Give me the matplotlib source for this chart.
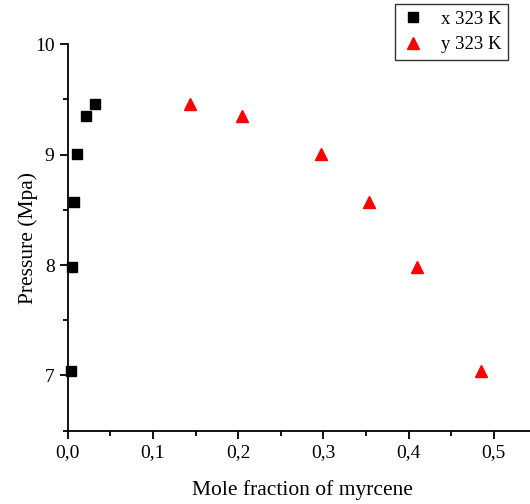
import matplotlib
matplotlib.use('Agg')
import matplotlib.pyplot as plt
from matplotlib.ticker import MultipleLocator, FuncFormatter

plt.rcParams['font.family'] = 'Liberation Serif'

# liquid phase (x) and vapour phase (y) at 323 K
x_liq = [0.0039, 0.0054, 0.0077, 0.0113, 0.0218, 0.0324]
p_liq = [7.04, 7.98, 8.57, 9.01, 9.35, 9.46]
y_vap = [0.4854, 0.4096, 0.3533, 0.2977, 0.2046, 0.1435]
p_vap = [7.04, 7.98, 8.57, 9.01, 9.35, 9.46]

fig = plt.figure(figsize=(5.30, 5.04), dpi=100)
ax = fig.add_axes([67.7/530, 1 - 430.7/504, (0.55*852)/530, (430.7-44.3)/504])

ax.plot(x_liq, p_liq, 's', color='black', ms=6.5, label='x 323 K', clip_on=False)
ax.plot(y_vap, p_vap, '^', color='red', ms=8, label='y 323 K', clip_on=False)

ax.set_xlim(0, 0.55)
ax.set_ylim(6.5, 10)
ax.xaxis.set_major_locator(MultipleLocator(0.1))
ax.xaxis.set_minor_locator(MultipleLocator(0.05))
ax.yaxis.set_major_locator(MultipleLocator(1))
ax.yaxis.set_minor_locator(MultipleLocator(0.5))
ax.xaxis.set_major_formatter(FuncFormatter(lambda v, p: f'{v:.1f}'.replace('.', ',')))
ax.yaxis.set_major_formatter(FuncFormatter(lambda v, p: f'{v:.0f}'))

for s in ['top', 'right']:
    ax.spines[s].set_visible(False)
for s in ['left', 'bottom']:
    ax.spines[s].set_linewidth(1.3)
ax.tick_params(which='major', direction='out', length=6, width=1.3, labelsize=14, pad=3.5)
ax.tick_params(which='minor', direction='out', length=3.5, width=1.3)

ax.set_xlabel('Mole fraction of myrcene', fontsize=15.5, labelpad=14)
ax.set_ylabel('Pressure (Mpa)', fontsize=15.5, labelpad=-2)

leg = fig.legend(loc='upper right', bbox_to_anchor=(508/530, 1 - 4/504), fontsize=13.5,
                 frameon=True, fancybox=False, edgecolor='black', borderpad=0.35,
                 handlelength=1.2, handletextpad=0.9, labelspacing=0.45, borderaxespad=0)
leg.get_frame().set_linewidth(1.0)

fig.savefig('out.png', dpi=100)
